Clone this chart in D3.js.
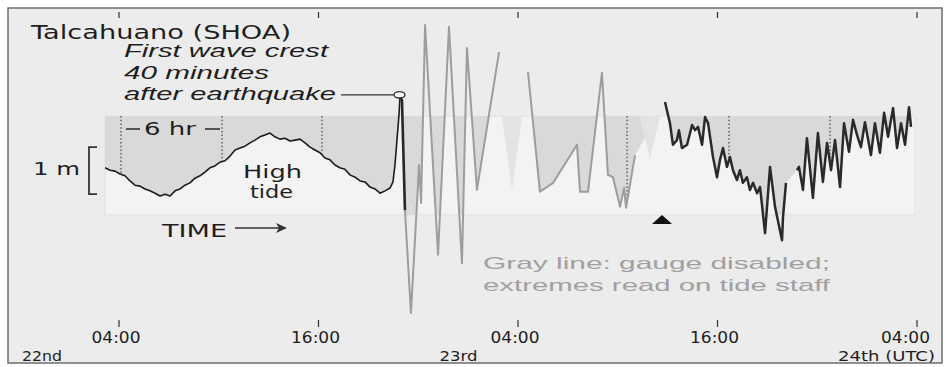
<!DOCTYPE html>
<html lang="en">
<head>
<meta charset="UTF-8">
<title>Talcahuano (SHOA)</title>
<script src="https://d3js.org/d3.v7.min.js"></script>
<style>
    body { margin: 0; background: #fff; }
    text { font-family: "DejaVu Sans", sans-serif; fill: #1e1e1e; }
    .it { font-family: "Liberation Sans", sans-serif; font-style: italic; }
    .note { font-family: "Liberation Sans", sans-serif; fill: #a0a0a0; }
</style>
</head>
<body>
<svg width="947" height="367"></svg>
<script>
// time = hours since 00:00 UTC on the 22nd, height = metres
var tideHours = [3.16,3.46,3.76,4.06,4.36,4.66,4.96,5.26,5.56,5.86,6.17,6.47,6.77,7.07,7.37,7.67,7.97,8.27,8.57,8.87,
    9.17,9.47,9.77,10.08,10.38,10.68,10.98,11.28,11.58,11.88,12.18,12.48,12.78,13.08,13.38,13.68,13.98,14.29,14.59,14.89,
    15.19,15.49,15.79,16.09,16.39,16.69,16.99,17.29,17.59,17.89,18.20,18.50,18.80,19.10,19.40,19.70,20.00,20.30,20.48,20.60,
    20.72,20.84,20.90];
var tideMeters = [-0.06,-0.11,-0.13,-0.19,-0.23,-0.34,-0.43,-0.45,-0.51,-0.55,-0.60,-0.66,-0.62,-0.66,-0.55,-0.51,-0.43,-0.38,-0.28,-0.23,
    -0.15,-0.06,-0.02,0.06,0.09,0.19,0.32,0.36,0.40,0.47,0.53,0.60,0.64,0.68,0.60,0.55,0.57,0.51,0.53,0.55,
    0.47,0.38,0.32,0.26,0.15,0.11,0.00,-0.06,-0.09,-0.21,-0.26,-0.34,-0.36,-0.47,-0.51,-0.60,-0.55,-0.49,-0.36,0.00,
    0.53,1.06,1.45];

// gauge still writing just after the first crest
var dropHours = [20.90, 21.02, 21.20];
var dropMeters = [1.45, 1.38, -0.96];

// gauge disabled: extremes read on the tide staff (gray)
var staffHoursA = [21.20,21.56,22.05,22.17,22.41,23.19,23.85,24.63,24.93,25.53,26.86];
var staffMetersA = [-0.96,-3.15,0.00,-0.81,2.98,-1.91,2.94,-2.09,2.49,-0.53,2.40];
var staffHoursB = [28.60,29.32,30.11,31.55,31.73,32.21,33.05,33.41,33.71,34.14,34.38,34.50,35.04];
var staffMetersB = [1.98,-0.57,-0.38,0.43,-0.57,-0.57,1.96,-0.21,-0.26,-0.89,-0.49,-0.91,0.21];

// faint shading in the two breaks, no line drawn
var wedgeLeftHours = [27.02, 35.30];
var wedgeApexHours = [27.64, 35.94];
var wedgeRightHours = [28.25, 36.55];
var wedgeApexMeters = [-0.53, 0.15];

// gauge record again
var recordHoursA = [36.84,37.14,37.32,37.56,37.68,37.86,38.17,38.47,38.65,38.83,39.07,39.25,39.43,39.73,39.97,40.15,40.33,
    40.57,40.75,40.93,41.17,41.35,41.53,41.77,41.95,42.14,42.38,42.56,42.86,43.16,43.46,43.88,43.94,44.12];
var recordMetersA = [1.34,0.89,0.43,0.53,0.74,0.36,0.43,0.85,0.74,0.81,0.43,1.02,0.89,0.17,-0.26,0.11,0.36,
    -0.04,0.17,-0.11,-0.32,-0.11,-0.38,-0.26,-0.53,-0.38,-0.60,-0.47,-1.45,-0.04,-0.89,-1.60,-1.11,-0.38];
var recordHoursB = [44.78,44.90,45.14,45.38,45.74,46.04,46.34,46.59,46.83,47.07,47.37,47.61,47.91,48.15,48.39,48.63,48.87,
    49.23,49.47,49.77,50.02,50.26,50.56,50.80,51.04,51.28,51.52,51.64];
var recordMetersB = [-0.11,-0.04,-0.53,0.57,-0.70,0.68,-0.36,0.47,-0.11,0.53,-0.47,0.89,0.28,0.96,0.64,0.38,0.91,
    0.21,0.89,0.26,1.11,0.60,1.21,0.36,0.89,0.43,1.23,0.81];

// predicted high / low water (dotted lines)
var extremeHours = [4.12, 10.20, 16.21, 34.56, 40.69, 46.77];

var bandHours = [3.16, 51.88];
var bandMeters = [1.04, -1.06];

var tickHours = [4, 16, 28, 40, 52];
var tickLabels = ["04:00", "16:00", "04:00", "16:00", "04:00"];
var dayHours = [0, 24, 48];
var dayLabels = ["22nd", "23rd", "24th (UTC)"];

var svg = d3.select("svg");

var x = d3.scaleLinear().domain([4, 52]).range([119, 917]);
var y = d3.scaleLinear().domain([-1, 1]).range([212, 118]);

function pts(hours, meters) {
    return hours.map(function (h, i) { return [h, meters[i]]; });
}

var tide = pts(tideHours, tideMeters);
var drop = pts(dropHours, dropMeters);
var staffA = pts(staffHoursA, staffMetersA);
var staffB = pts(staffHoursB, staffMetersB);
var recA = pts(recordHoursA, recordMetersA);
var recB = pts(recordHoursB, recordMetersB);

var all = tide.concat(drop, staffA, staffB, recA, recB)
    .sort(function (a, b) { return a[0] - b[0]; });

// frame
svg.append("rect")
    .attr("x", 8).attr("y", 8).attr("width", 934).attr("height", 355)
    .style("fill", "#ececec").style("stroke", "#6e6e6e").style("stroke-width", 1.5);

// band
var bx0 = x(bandHours[0]), bx1 = x(bandHours[1]);
var by0 = y(bandMeters[0]), by1 = y(bandMeters[1]);
svg.append("rect")
    .attr("x", bx0).attr("y", by0).attr("width", bx1 - bx0).attr("height", by1 - by0)
    .style("fill", "#f3f3f3").style("stroke", "#e2e2e2");

var defs = svg.append("defs");
defs.append("clipPath").attr("id", "bandClip")
    .append("rect")
    .attr("x", bx0).attr("y", by0).attr("width", bx1 - bx0).attr("height", by1 - by0);

var area = d3.area()
    .x(function (d) { return x(d[0]); })
    .y0(by0)
    .y1(function (d) { return y(d[1]); });

defs.append("clipPath").attr("id", "fillClip")
    .append("path").attr("d", area(all));

svg.append("path")
    .attr("d", area(all))
    .attr("clip-path", "url(#bandClip)")
    .style("fill", "#d9d9d9");

// faint wedges inside the breaks
svg.append("g").selectAll("path")
    .data(wedgeApexHours)
    .enter().append("path")
    .attr("d", function (d, i) {
        return "M" + x(wedgeLeftHours[i]) + "," + by0 +
            "L" + x(d) + "," + y(wedgeApexMeters[i]) +
            "L" + x(wedgeRightHours[i]) + "," + by0 + "Z";
    })
    .style("fill", "#e3e3e3");

// dotted extremes, only inside the shaded part
svg.append("g")
    .attr("clip-path", "url(#fillClip)")
    .selectAll("line")
    .data(extremeHours)
    .enter().append("line")
    .attr("x1", function (d) { return x(d); })
    .attr("x2", function (d) { return x(d); })
    .attr("y1", by0)
    .attr("y2", by1)
    .style("stroke", "#6a6a6a")
    .style("stroke-width", 1.6)
    .style("stroke-dasharray", "1.5,2.2");

var line = d3.line()
    .x(function (d) { return x(d[0]); })
    .y(function (d) { return y(d[1]); });

function trace(data, color, width) {
    svg.append("path")
        .attr("d", line(data))
        .style("fill", "none")
        .style("stroke", color)
        .style("stroke-width", width)
        .style("stroke-linejoin", "round");
}

trace(staffA, "#9d9d9d", 2);
trace(staffB, "#9d9d9d", 2);
trace(tide, "#1c1c1c", 1.6);
trace(drop, "#262626", 2.6);
trace(recA, "#2a2a2a", 2.5);
trace(recB, "#2a2a2a", 2.5);

// first wave crest marker + leader
var cx = x(dropHours[0]), cy = y(dropMeters[0]) - 2;
svg.append("line")
    .attr("x1", 341).attr("x2", cx - 5).attr("y1", cy).attr("y2", cy)
    .style("stroke", "#333").style("stroke-width", 1.2);
svg.append("ellipse")
    .attr("cx", cx - 0.5).attr("cy", cy).attr("rx", 5.5).attr("ry", 3.2)
    .style("fill", "#f8f8f8").style("stroke", "#333").style("stroke-width", 1.4);

// ticks
var ticks = svg.append("g");
tickHours.forEach(function (h) {
    ticks.append("line").attr("x1", x(h)).attr("x2", x(h)).attr("y1", 12).attr("y2", 18)
        .style("stroke", "#333").style("stroke-width", 1.2);
    ticks.append("line").attr("x1", x(h)).attr("x2", x(h)).attr("y1", 320).attr("y2", 327)
        .style("stroke", "#333").style("stroke-width", 1.2);
});
var lastTick = tickHours.length - 1;
svg.append("g").selectAll("text")
    .data(tickHours)
    .enter().append("text")
    .attr("x", function (d, i) { return i == lastTick ? 930 : x(d) - 3; })
    .attr("y", 343)
    .attr("text-anchor", function (d, i) { return i == lastTick ? "end" : "middle"; })
    .attr("textLength", 49)
    .attr("lengthAdjust", "spacingAndGlyphs")
    .style("font-size", "15px")
    .text(function (d, i) { return tickLabels[i]; });

var dayX = [22, x(dayHours[1]) - 12, 935];
var dayW = [40, 38, 97];
svg.append("g").selectAll("text")
    .data(dayHours)
    .enter().append("text")
    .attr("x", function (d, i) { return dayX[i]; })
    .attr("y", 361)
    .attr("text-anchor", function (d, i) { return i == 2 ? "end" : "start"; })
    .attr("textLength", function (d, i) { return dayW[i]; })
    .attr("lengthAdjust", "spacingAndGlyphs")
    .style("font-size", "14px")
    .text(function (d, i) { return dayLabels[i]; });

function label(t, px, py, size, w, cls) {
    var el = svg.append("text").attr("x", px).attr("y", py)
        .style("font-size", size + "px")
        .attr("textLength", w).attr("lengthAdjust", "spacingAndGlyphs")
        .text(t);
    if (cls) el.attr("class", cls);
    return el;
}

label("Talcahuano (SHOA)", 31, 39, 19, 260);
label("First wave crest", 124, 57, 18, 204, "it");
label("40 minutes", 124, 79, 18, 145, "it");
label("after earthquake", 124, 100, 18, 212, "it");
label("6 hr", 144, 135, 17, 52);
label("1 m", 33, 175, 17, 47);
label("High", 243, 178, 18, 59);
label("tide", 250, 198, 18, 43);
label("TIME", 162, 237, 17, 65);
label("Gray line:  gauge disabled;", 483, 269, 17, 347, "note");
label("extremes read on tide staff", 483, 291, 17, 347, "note");

// 6 hr dashes
[[126, 140], [205, 220]].forEach(function (s) {
    svg.append("line").attr("x1", s[0]).attr("x2", s[1]).attr("y1", 129).attr("y2", 129)
        .style("stroke", "#333").style("stroke-width", 1.6);
});

// 1 m bracket
svg.append("path")
    .attr("d", "M97," + y(0.38) + "H89V" + y(-0.62) + "H97")
    .style("fill", "none").style("stroke", "#333").style("stroke-width", 1.8);

// TIME arrow
svg.append("line").attr("x1", 235).attr("x2", 284).attr("y1", 228).attr("y2", 228)
    .style("stroke", "#333").style("stroke-width", 1.6);
svg.append("path").attr("d", "M287,228 L276,223 L279,228 L276,233 Z").style("fill", "#333");

// marker triangle
svg.append("path").attr("d", "M662,215 L672,224 L652,224 Z").style("fill", "#111");
</script>
</body>
</html>
